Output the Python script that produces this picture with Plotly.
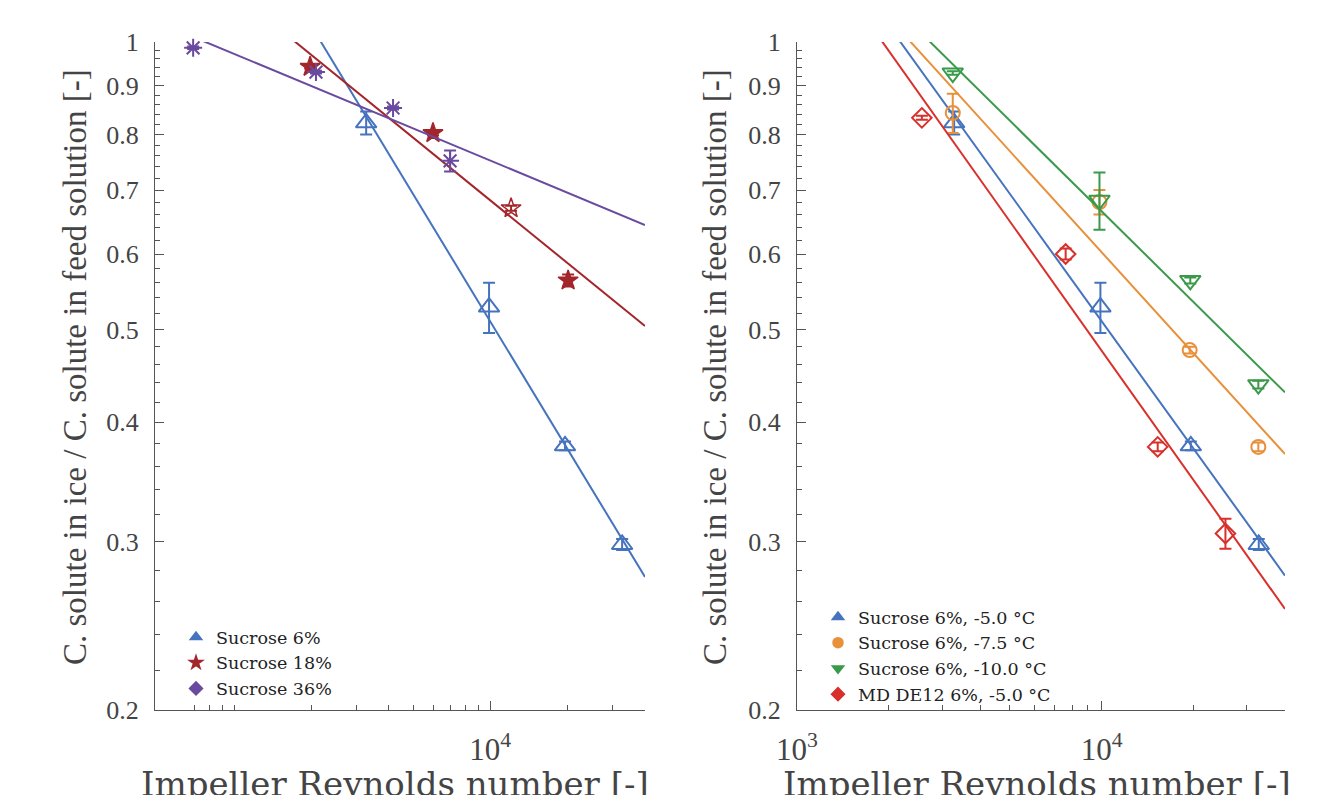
import numpy as np
import plotly.graph_objects as go

FONT = "Liberation Serif"
WIDE = "DejaVu Serif"

# ---------------- data: left panel ----------------
re_s6 = [3281, 9910, 19630, 32800]
c_s6 = [0.823, 0.528, 0.378, 0.298]
e_s6 = [0.023, 0.032, 0.004, 0.004]

re_s18 = [1982, 5985, 12080, 20180]
c_s18 = [0.942, 0.803, 0.670, 0.563]
e_s18 = [0.004, 0.004, 0.004, 0.008]

re_s36 = [692, 2089, 4179, 6980]
c_s36 = [0.986, 0.930, 0.853, 0.751]
e_s36 = [0.003, 0.003, 0.003, 0.019]

# ---------------- data: right panel ----------------
re_t5 = [3281, 9910, 19630, 32800]
c_t5 = [0.823, 0.528, 0.378, 0.298]
e_t5 = [0.023, 0.032, 0.004, 0.004]

re_t75 = [3246, 9840, 19460, 32700]
c_t75 = [0.843, 0.680, 0.476, 0.377]
e_t75 = [0.040, 0.020, 0.004, 0.004]

re_t10 = [3246, 9840, 19550, 32700]
c_t10 = [0.928, 0.683, 0.563, 0.438]
e_t10 = [0.004, 0.047, 0.004, 0.004]

re_md = [2570, 7620, 15280, 25500]
c_md = [0.833, 0.600, 0.377, 0.306]
e_md = [0.004, 0.008, 0.004, 0.011]

labels_left = ["Sucrose 6%", "Sucrose 18%", "Sucrose 36%"]
labels_right = ["Sucrose 6%, -5.0 °C", "Sucrose 6%, -7.5 °C",
                "Sucrose 6%, -10.0 °C", "MD DE12 6%, -5.0 °C"]

x_title = "Impeller Reynolds number [-]"
y_title = "C. solute in ice / C. solute in feed solution [-]"

y_ticks = [0.2, 0.3, 0.4, 0.5, 0.6, 0.7, 0.8, 0.9, 1.0]
y_ticktext = ["0.2", "0.3", "0.4", "0.5", "0.6", "0.7", "0.8", "0.9", "1"]
y_minor = [round(v, 2) for v in np.arange(0.22, 1.0, 0.02) if round(v, 2) not in y_ticks]

xl_range = [491, 40300]
xr_range = [1000, 40000]
xminor_left = [700, 800, 900, 1000, 2000, 3000, 4000, 5000, 6000, 7000, 8000, 9000, 20000, 30000, 40000]
xminor_right = [2000, 3000, 4000, 5000, 6000, 7000, 8000, 9000, 20000, 30000]

BLUE = "#4673BE"
DRED = "#A3262B"
PURP = "#6A4A9E"
ORAN = "#E8903A"
GREEN = "#3A9A4A"
RED = "#D8302B"

# page body adds an 8 px offset; figure is sized so the page fits the window
OFF = 8
W, H = 1331 - OFF, 795 - OFF


def px(x):
    return (x - OFF) / W


def py(y):
    return (H - (y - OFF)) / H


fig = go.Figure()


def add_series(x, y, err, color, symbol, size, xa, ya, xrange, lw=2):
    lx = np.log10(x)
    ly = np.log10(y)
    b, a = np.polyfit(lx, ly, 1)
    fx = np.logspace(np.log10(xrange[0]), np.log10(xrange[1]), 50)
    fy = 10 ** (a + b * np.log10(fx))
    fig.add_trace(go.Scatter(x=fx, y=fy, mode="lines", line=dict(color=color, width=2),
                             xaxis=xa, yaxis=ya, showlegend=False, hoverinfo="skip"))
    fig.add_trace(go.Scatter(x=x, y=y, mode="markers",
                             marker=dict(symbol=symbol, size=size, color=color,
                                         line=dict(color=color, width=lw)),
                             error_y=dict(type="data", array=err, color=color,
                                          thickness=2, width=6),
                             xaxis=xa, yaxis=ya, showlegend=False, cliponaxis=False))


def add_legend(name, color, symbol, legend):
    fig.add_trace(go.Scatter(x=[None], y=[None], mode="markers", name=name,
                             marker=dict(symbol=symbol, size=10, color=color,
                                         line=dict(color=color, width=1.5)),
                             legend=legend, xaxis="x", yaxis="y"))


# left panel
add_series(re_s6, c_s6, e_s6, BLUE, "triangle-up-open", 18, "x", "y", xl_range)
add_series(re_s18, c_s18, e_s18, DRED, ["star", "star", "star-open", "star"], 15, "x", "y", xl_range, 1.5)
add_series(re_s36, c_s36, e_s36, PURP, "asterisk-open", 15, "x", "y", xl_range)

# right panel
add_series(re_t5, c_t5, e_t5, BLUE, "triangle-up-open", 18, "x2", "y2", xr_range)
add_series(re_t75, c_t75, e_t75, ORAN, "circle-open", 14, "x2", "y2", xr_range)
add_series(re_t10, c_t10, e_t10, GREEN, "triangle-down-open", 18, "x2", "y2", xr_range)
add_series(re_md, c_md, e_md, RED, "diamond-open", 15, "x2", "y2", xr_range)

add_legend(labels_left[0], BLUE, "triangle-up", "legend")
add_legend(labels_left[1], DRED, "star", "legend")
add_legend(labels_left[2], PURP, "diamond", "legend")
add_legend(labels_right[0], BLUE, "triangle-up", "legend2")
add_legend(labels_right[1], ORAN, "circle", "legend2")
add_legend(labels_right[2], GREEN, "triangle-down", "legend2")
add_legend(labels_right[3], RED, "diamond", "legend2")

ydom = [py(710), py(42)]

axis_common = dict(type="log", showline=True, linecolor="#555", linewidth=1.2,
                   ticks="inside", ticklen=9, tickwidth=1.2, tickcolor="#555",
                   showgrid=False, zeroline=False, automargin=False)
minor_common = dict(tickmode="array", ticks="inside", ticklen=5, tickcolor="#555", tickwidth=1)
xtickfont = dict(family=FONT, size=31, color="#444")
ytickfont = dict(family=FONT, size=26, color="#444")

fig.update_layout(
    width=W, height=H,
    margin=dict(l=0, r=0, t=0, b=0),
    paper_bgcolor="white", plot_bgcolor="white",
    xaxis=dict(axis_common, domain=[px(155), px(645)], anchor="y",
               range=[np.log10(xl_range[0]), np.log10(xl_range[1])],
               tickmode="array", tickvals=[1e4], ticktext=["10<sup>4</sup>"],
               ticklabelstandoff=12, tickfont=xtickfont,
               minor=dict(minor_common, tickvals=xminor_left)),
    yaxis=dict(axis_common, domain=ydom, anchor="x",
               range=[np.log10(0.2), 0],
               tickmode="array", tickvals=y_ticks, ticktext=y_ticktext,
               ticklabelstandoff=10, tickfont=ytickfont,
               minor=dict(minor_common, tickvals=y_minor)),
    xaxis2=dict(axis_common, domain=[px(797), px(1285)], anchor="y2",
                range=[np.log10(xr_range[0]), np.log10(xr_range[1])],
                tickmode="array", tickvals=[1e3, 1e4],
                ticktext=["10<sup>3</sup>", "10<sup>4</sup>"],
                ticklabelstandoff=12, tickfont=xtickfont,
                minor=dict(minor_common, tickvals=xminor_right)),
    yaxis2=dict(axis_common, domain=ydom, anchor="x2",
                range=[np.log10(0.2), 0],
                tickmode="array", tickvals=y_ticks, ticktext=y_ticktext,
                ticklabelstandoff=10, tickfont=ytickfont,
                minor=dict(minor_common, tickvals=y_minor)),
    legend=dict(x=px(176), y=py(619), xanchor="left", yanchor="top",
                bgcolor="rgba(0,0,0,0)", font=dict(family=WIDE, size=17.5, color="#222"),
                tracegroupgap=0, itemwidth=30),
    legend2=dict(x=px(818), y=py(599), xanchor="left", yanchor="top",
                 bgcolor="rgba(0,0,0,0)", font=dict(family=WIDE, size=17.5, color="#222"),
                 tracegroupgap=0, itemwidth=30),
)

# axis titles as annotations for exact placement
for cx in (395, 1037):
    fig.add_annotation(text=x_title, xref="paper", yref="paper", x=px(cx), y=py(762),
                       xanchor="center", yanchor="top", showarrow=False,
                       font=dict(family=WIDE, size=34, color="#444"))
for cx in (75, 715):
    fig.add_annotation(text=y_title, xref="paper", yref="paper", x=px(cx), y=py(367),
                       xanchor="center", yanchor="middle", textangle=-90, showarrow=False,
                       font=dict(family=FONT, size=33, color="#444"))

fig.write_html("out.html")
